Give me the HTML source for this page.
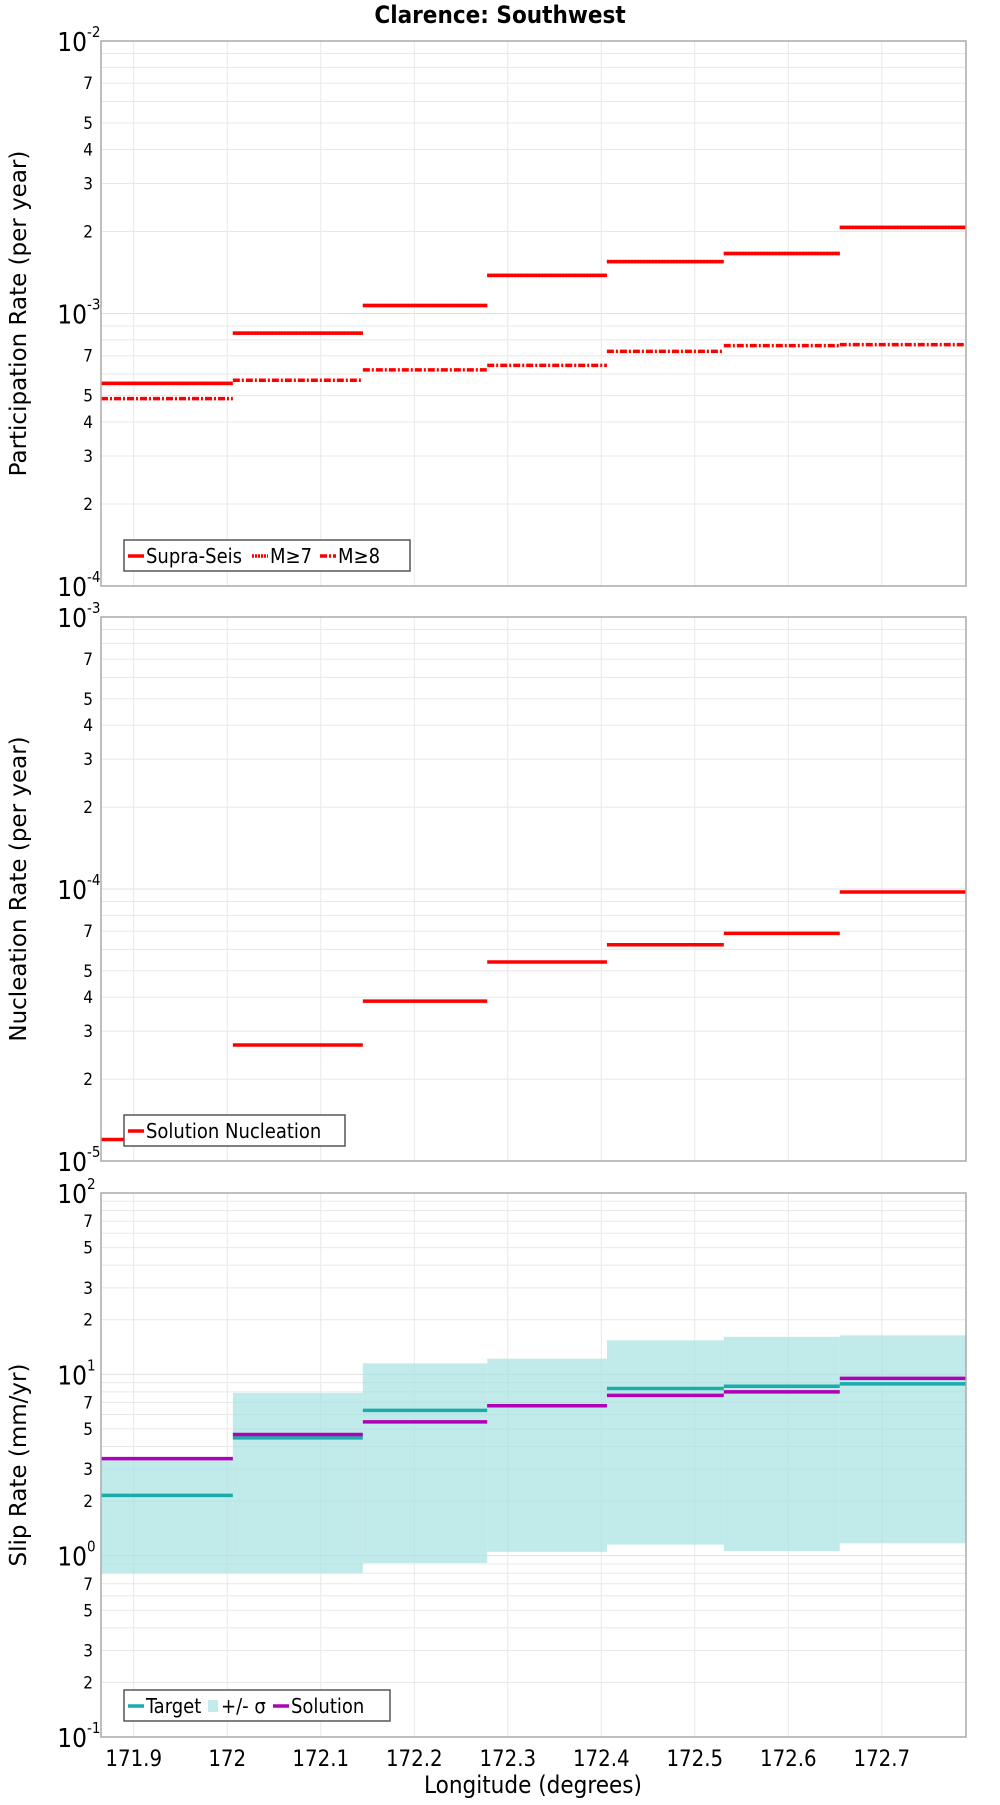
<!DOCTYPE html>
<html><head><meta charset="utf-8"><style>
body{margin:0;background:#fff;width:1000px;height:1800px;overflow:hidden}
svg{font-family:"DejaVu Sans Condensed","DejaVu Sans","Liberation Sans",sans-serif}
</style></head><body>
<svg id="chart" width="1000" height="1800" xmlns="http://www.w3.org/2000/svg">
<text x="500" y="23" text-anchor="middle" font-size="24" font-weight="bold">Clarence: Southwest</text>
<text x="533" y="1793" text-anchor="middle" font-size="24">Longitude (degrees)</text>
</svg>
<script>
const binEdges=[171.865,172.006,172.145,172.278,172.406,172.531,172.655,172.79];
const xTicks=[171.9,172,172.1,172.2,172.3,172.4,172.5,172.6,172.7];
const xTickLabels=["171.9","172","172.1","172.2","172.3","172.4","172.5","172.6","172.7"];
const supraSeis=[5.54e-4,8.47e-4,1.07e-3,1.38e-3,1.55e-3,1.66e-3,2.07e-3];
const m7=[5.54e-4,8.47e-4,1.07e-3,1.38e-3,1.55e-3,1.66e-3,2.07e-3];
const m8=[4.87e-4,5.69e-4,6.21e-4,6.45e-4,7.26e-4,7.62e-4,7.69e-4];
const nucleation=[1.2e-5,2.67e-5,3.87e-5,5.39e-5,6.24e-5,6.87e-5,9.75e-5];
const target=[2.15,4.46,6.33,6.71,8.36,8.6,8.86];
const solution=[3.43,4.66,5.47,6.71,7.66,8.0,9.5];
const bandUpper=[3.5,7.9,11.5,12.2,15.4,16.1,16.4];
const bandLower=[0.80,0.80,0.91,1.05,1.15,1.06,1.17];

const NS="http://www.w3.org/2000/svg";
const svg=document.getElementById('chart');
const L=101,R=966,X0=171.865,X1=172.79;
function xs(v){return L+(v-X0)/(X1-X0)*(R-L);}
function mk(tag,attrs,parent){const e=document.createElementNS(NS,tag);for(const k in attrs)e.setAttribute(k,attrs[k]);(parent||svg).appendChild(e);return e;}

function panel(name,top,bot,dmin,dmax,minorLabels,ytitle){
  const g=mk('g',{});
  
  
  const ys=v=>bot-(Math.log10(v)-dmin)/(dmax-dmin)*(bot-top);
  for(let d=dmin;d<dmax;d++){for(let m=2;m<=9;m++){const y=ys(m*Math.pow(10,d));
    const ln=mk('line',{x1:L,x2:R,y1:y,y2:y,stroke:'#e8e8e8','stroke-width':1},g);
    
    
    if(minorLabels.includes(m)){const t=mk('text',{x:L-8,y:y+6,'text-anchor':'end','font-size':17},g);t.textContent=m;
      
      }
  }}
  for(let d=dmin;d<=dmax;d++){const y=ys(Math.pow(10,d));
    const t=mk('text',{x:L-14,y:y+10,'text-anchor':'end','font-size':26},g);t.textContent='10';
    
    
    const s=mk('text',{x:L-14,y:y-4,'font-size':15},g);s.textContent=String(d);
    
    
    if(d>dmin&&d<dmax){const ln=mk('line',{x1:L,x2:R,y1:y,y2:y,stroke:'#e0e0e0'},g);
      
      }
  }
  xTicks.forEach(v=>{const ln=mk('line',{x1:xs(v),x2:xs(v),y1:top,y2:bot,stroke:'#e8e8e8'},g);
    
    });
  const yt=mk('text',{transform:`translate(26,${(top+bot)/2}) rotate(-90)`,'text-anchor':'middle','font-size':23,'font-family':'DejaVu Sans,sans-serif'},g);
  yt.textContent=ytitle;
  
  
  return {g,ys};
}
function frame(g,top,bot){const r=mk('rect',{x:L,y:top,width:R-L,height:bot-top,fill:'none',stroke:'#aaa','stroke-width':1.5},g);
  
  }
function steps(g,ys,vals,color,dash,name){vals.forEach((v,i)=>{const a={x1:xs(binEdges[i]),x2:xs(binEdges[i+1]),y1:ys(v),y2:ys(v),stroke:color,'stroke-width':3.5};if(dash)a['stroke-dasharray']=dash;
  const ln=mk('line',a,g);
  
  });}
function legend(g,x,y,w,items){
  const lg=mk('g',{},g);
  
  
  const r=mk('rect',{x:x,y:y,width:w,height:31,fill:'#fff',stroke:'#555','stroke-width':1.5},lg);
  
  
  let cx=x+4;
  items.forEach(it=>{
    if(it.box){const b=mk('rect',{x:cx,y:y+10,width:10,height:12,fill:it.color},lg);
      
      cx+=13;}
    else{const a={x1:cx,x2:cx+16,y1:y+16,y2:y+16,stroke:it.color,'stroke-width':3.5};if(it.dash)a['stroke-dasharray']=it.dash;
      const ln=mk('line',a,lg);
      
      cx+=18;}
    const t=mk('text',{x:cx,y:y+23,'font-size':20},lg);t.textContent=it.label;
    
    
    cx+=it.w;
  });
}
// Panel 1
let p=panel('participation',41,586,-4,-2,[2,3,4,5,7],'Participation Rate (per year)');
steps(p.g,p.ys,supraSeis,'#ff0000',null,'supra-seis');
steps(p.g,p.ys,m7,'#ff0000','2,1','m7');
steps(p.g,p.ys,m8,'#ff0000','7,2,2,2','m8');
frame(p.g,41,586);
legend(p.g,124,540,286,[{label:'Supra-Seis',color:'#ff0000',w:106},{label:'M≥7',color:'#ff0000',dash:'2,1',w:50},{label:'M≥8',color:'#ff0000',dash:'7,2,2,2',w:50}]);
// Panel 2
p=panel('nucleation',617,1161,-5,-3,[2,3,4,5,7],'Nucleation Rate (per year)');
steps(p.g,p.ys,nucleation,'#ff0000',null,'nucleation');
frame(p.g,617,1161);
legend(p.g,124,1115,221,[{label:'Solution Nucleation',color:'#ff0000',w:190}]);
// Panel 3
p=panel('slip-rate',1193,1737,-1,2,[2,3,5,7],'Slip Rate (mm/yr)');
bandUpper.forEach((u,i)=>{const r=mk('rect',{x:xs(binEdges[i]),y:p.ys(u),width:xs(binEdges[i+1])-xs(binEdges[i]),height:p.ys(bandLower[i])-p.ys(u),fill:'#a6e3e1','fill-opacity':0.7},p.g);
  
  });
steps(p.g,p.ys,target,'#1aabab',null,'target');
steps(p.g,p.ys,solution,'#b000b8',null,'solution');
frame(p.g,1193,1737);
legend(p.g,124,1690,266,[{label:'Target',color:'#1aabab',w:62},{label:'+/- σ',color:'#c2ebea',box:true,w:52},{label:'Solution',color:'#b000b8',w:80}]);
// x ticks
xTicks.forEach((v,i)=>{const t=mk('text',{x:xs(v),y:1766,'text-anchor':'middle','font-size':22});t.textContent=xTickLabels[i];
  
  });
</script>
</body></html>
